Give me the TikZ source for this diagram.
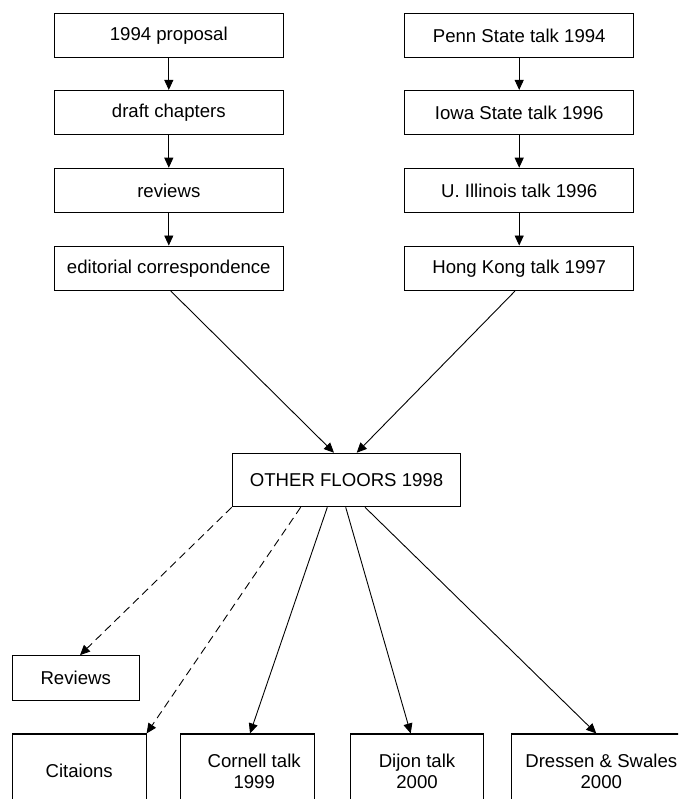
\documentclass[tikz,border=0pt]{standalone}
\usepackage{fontspec}
\setmainfont{Liberation Sans}
\usetikzlibrary{arrows.meta,calc}
\begin{document}
\begin{tikzpicture}[x=1pt,y=-1pt,
  box/.style={draw, line width=1.1pt, inner sep=0pt, minimum width=229pt,
    minimum height=44.4pt, align=center, font=\fontsize{18.6}{21}\selectfont},
  lowbox/.style={box, minimum width=133.7pt, minimum height=74pt},
  link/.style={line width=0.9pt, -{Triangle[length=10pt,width=9pt]}},
  weak/.style={link, dash pattern=on 8pt off 5pt}]
\useasboundingbox (0,0) rectangle (678,799);
\clip (0,0) rectangle (678,799);

% publication history (left column)
\node[box] (prop)  at (168.8,35.5)  {1994 proposal};
\node[box] (draft) at (168.8,112.7) {draft chapters};
\node[box] (rev)   at (168.8,190.5) {reviews};
\node[box] (edit)  at (168.8,268.3) {editorial correspondence};

% talks (right column)
\node[box] (penn) at (519.2,35.5)  {Penn State talk 1994};
\node[box] (iowa) at (519.2,112.7) {Iowa State talk 1996};
\node[box] (illi) at (519.2,190.5) {U. Illinois talk 1996};
\node[box] (hk)   at (519.2,268.3) {Hong Kong talk 1997};

% the book
\node[box, minimum width=228.4pt, minimum height=53.4pt] (floors) at (346.5,480) {OTHER FLOORS 1998};

% reception
\node[box, minimum width=126.7pt, minimum height=44.6pt] (reviews) at (75.7,678) {Reviews};
\node[lowbox] (cit)   at (79.2,771)  {Citaions};
\node[lowbox] (corn)  at (247.2,771) {\hspace*{14pt}Cornell talk\\\hspace*{14pt}1999};
\node[lowbox] (dijon) at (417,771)   {Dijon talk\\2000};
\node[lowbox, minimum width=180pt] (dress) at (601.3,771) {Dressen \& Swales\\2000};

% column chains
\foreach \a/\b in {prop/draft, draft/rev, rev/edit, penn/iowa, iowa/illi, illi/hk}
  \draw[link] (\a) -- (\b);

% into the book
\draw[link] ([xshift=2pt]edit.south) -- ([xshift=-12.5pt]floors.north);
\draw[link] ([xshift=-4.2pt]hk.south) -- ([xshift=10.2pt]floors.north);

% out of the book
\draw[weak] (floors.south west) -- ([xshift=4.3pt]reviews.north);
\draw[weak] ([xshift=-45.8pt]floors.south) -- (cit.north east);
\draw[link] ([xshift=-19.2pt]floors.south) -- ([xshift=2.8pt]corn.north);
\draw[link] ([xshift=-0.8pt]floors.south) -- ([xshift=-6.3pt]dijon.north);
\draw[link] ([xshift=18.5pt]floors.south) -- ([xshift=-5pt]dress.north);
\end{tikzpicture}
\end{document}
